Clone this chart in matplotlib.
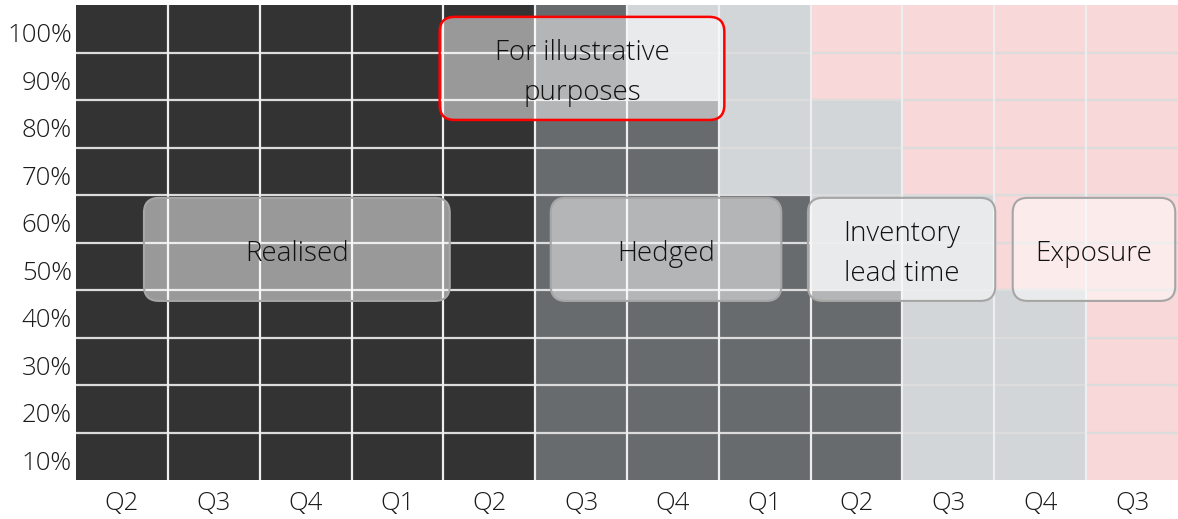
import matplotlib
matplotlib.use("Agg")
import matplotlib.pyplot as plt
from matplotlib.patches import FancyBboxPatch
from matplotlib.transforms import ScaledTranslation
import numpy as np

# ---- data ----
quarters = ["Q2", "Q3", "Q4", "Q1", "Q2", "Q3", "Q4", "Q1", "Q2", "Q3", "Q4", "Q3"]
realised = [100, 100, 100, 100, 100, 0, 0, 0, 0, 0, 0, 0]
hedged = [0, 0, 0, 0, 0, 100, 80, 60, 40, 0, 0, 0]
inventory = [0, 0, 0, 0, 0, 0, 20, 40, 40, 60, 40, 0]
exposure = [0, 0, 0, 0, 0, 0, 0, 0, 20, 40, 60, 100]
ytick_labels = ["10%", "20%", "30%", "40%", "50%", "60%", "70%", "80%", "90%", "100%"]
box_labels = ["Realised", "Hedged", "Inventory\nlead time", "Exposure", "For illustrative\npurposes"]

# ---- style ----
colors = ["#333333", "#686b6e", "#d3d6d8", "#f8d8d8"]
FONT = ["Open Sans", "DejaVu Sans"]
plt.rcParams["font.family"] = FONT

W, H = 1178, 519
fig = plt.figure(figsize=(W / 100, H / 100), dpi=100)
ax = fig.add_axes([76 / W, (H - 480) / H, (1178 - 76) / W, (480 - 5) / H])

x = np.arange(len(quarters))
bottom = np.zeros(len(quarters))
for vals, c in zip([realised, hedged, inventory, exposure], colors):
    ax.bar(x, vals, bottom=bottom, width=1.0, color=c, linewidth=0, zorder=1)
    bottom += np.array(vals)

ax.set_xlim(-0.5, len(quarters) - 0.5)
ax.set_ylim(0, 100)

# grid lines between cells
for yv in range(10, 100, 10):
    ax.axhline(yv, color="#dcdcdc", lw=1.6, zorder=2)
for xv in np.arange(0.5, len(quarters) - 0.5, 1.0):
    ax.axvline(xv, color="#eeeeee", lw=1.6, zorder=2)

ax.set_xticks(x)
ax.set_xticklabels(quarters)
ax.set_yticks(np.arange(5, 100, 10))
ax.set_yticklabels(ytick_labels)
ax.tick_params(length=0, labelsize=18.5, colors="#1a1a1a")
ax.tick_params(axis="y", pad=3)
ax.tick_params(axis="x", pad=8)
for lab in ax.get_xticklabels() + ax.get_yticklabels():
    lab.set_fontweight("light")
shift = ScaledTranslation(0, -0.04, fig.dpi_scale_trans)
for lab in ax.get_yticklabels():
    lab.set_transform(lab.get_transform() + shift)
for s in ax.spines.values():
    s.set_visible(False)

# annotation boxes (layout in data coordinates)
box_spans = [
    (0.24, 3.57, 37.7, 59.4),
    (4.67, 7.18, 37.7, 59.4),
    (7.47, 9.51, 37.7, 59.4),
    (9.70, 11.47, 37.7, 59.4),
    (3.46, 6.56, 75.8, 97.5),
]
edge_colors = ["#a6a6a6", "#a6a6a6", "#a6a6a6", "#a6a6a6", "#ff0000"]

px_per_x = (1178 - 76) / len(quarters)
px_per_y = (480 - 5) / 100.0
aspect = px_per_x / px_per_y
radius_px = 15

for lab, (x0, x1, y0, y1), ec in zip(box_labels, box_spans, edge_colors):
    p = FancyBboxPatch((x0, y0), x1 - x0, y1 - y0,
                       boxstyle=f"round,pad=0,rounding_size={radius_px / px_per_x}",
                       mutation_aspect=aspect,
                       facecolor=(1, 1, 1, 0.5), edgecolor=ec,
                       lw=1.8 if ec == "#ff0000" else 1.5, zorder=3)
    ax.add_patch(p)
    ax.text((x0 + x1) / 2, (y0 + y1) / 2 - 1.0, lab, ha="center", va="center",
            fontsize=20, fontweight="light", color="#111111",
            linespacing=1.55, zorder=4)

fig.savefig("out.png", dpi=100)
